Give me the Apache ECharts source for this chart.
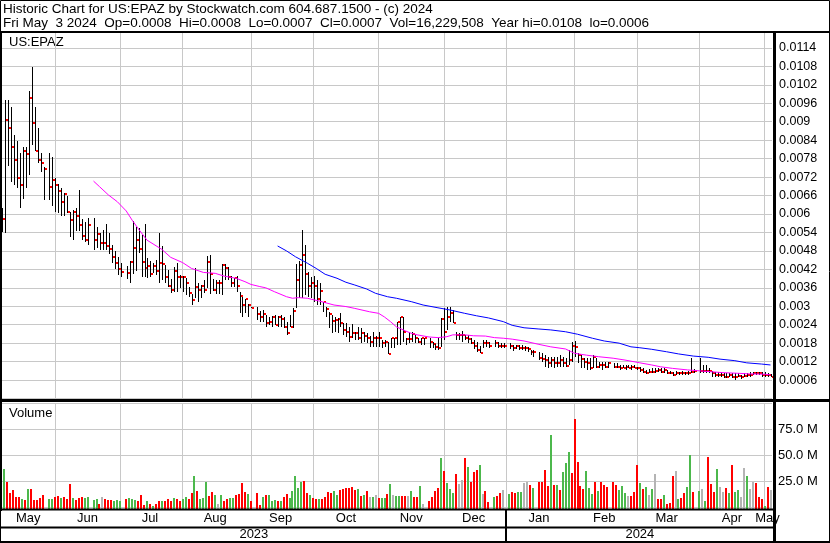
<!DOCTYPE html>
<html><head><meta charset="utf-8">
<script src="https://cdn.jsdelivr.net/npm/echarts@6/dist/echarts.min.js"></script>
<style>html,body{margin:0;padding:0;background:#fff}#c{width:830px;height:543px}</style>
</head><body><div id="c"></div>
<script>
// ---- data ----
const firstDay = '2023-05-08';
const lastDay = '2024-05-03';
const monthLabels = ['Jan','Feb','Mar','Apr','May','Jun','Jul','Aug','Sep','Oct','Nov','Dec'];
const priceTicks = {min: 0, max: 0.011886, interval: 0.0006};
const volumeTicks = {min: 0, max: 100, interval: 25};

const priceHigh = [
0.00619,0.00971,0.00971,0.00949,0.00857,0.00838,0.00799,0.00817,0.00817,0.01000,
0.01079,0.00949,0.00879,0.00797,0.00754,null,0.00799,0.00784,0.00716,0.00698,
0.00686,0.00669,0.00659,0.00608,0.00613,0.00621,0.00678,0.00583,0.00575,0.00586,
null,0.00586,0.00559,0.00537,0.00548,0.00567,0.00537,0.00499,0.00480,0.00460,
0.00440,null,0.00430,0.00447,0.00578,0.00557,0.00553,0.00532,0.00567,0.00458,
0.00448,0.00440,0.00450,0.00537,0.00496,0.00434,0.00418,0.00388,0.00429,0.00442,
0.00402,0.00398,0.00391,0.00364,0.00340,0.00423,0.00375,0.00369,0.00385,0.00463,
0.00467,0.00388,0.00385,0.00385,0.00437,0.00437,0.00429,0.00398,0.00391,0.00398,
0.00347,0.00329,0.00324,0.00307,0.00299,null,0.00299,0.00285,0.00288,0.00272,
0.00266,0.00269,0.00272,0.00269,0.00272,0.00266,0.00248,0.00272,0.00293,0.00436,
0.00447,0.00548,0.00499,0.00413,0.00396,0.00399,0.00385,0.00375,0.00313,0.00299,
0.00282,0.00272,0.00266,0.00263,0.00277,0.00245,0.00245,0.00234,0.00241,0.00215,
0.00234,0.00228,0.00217,0.00212,0.00203,0.00215,0.00203,0.00215,0.00190,0.00190,
0.00185,0.00196,0.00196,0.00248,0.00266,0.00266,0.00196,0.00217,0.00215,0.00207,
0.00196,0.00196,0.00196,null,0.00196,0.00185,0.00176,0.00196,0.00261,0.00293,
0.00299,0.00299,0.00288,0.00215,0.00212,0.00220,0.00205,0.00207,0.00196,0.00190,
0.00185,0.00171,0.00190,0.00190,0.00185,null,0.00190,0.00185,0.00182,0.00182,
null,0.00182,0.00174,0.00174,0.00174,0.00174,0.00172,0.00168,0.00158,0.00158,
null,0.00152,0.00147,0.00141,0.00136,0.00136,0.00136,0.00136,0.00141,0.00136,
0.00131,0.00158,0.00185,0.00187,0.00147,0.00141,0.00131,0.00131,0.00131,0.00141,
0.00131,0.00120,0.00120,0.00120,0.00120,null,0.00114,0.00114,0.00109,0.00109,
0.00109,0.00109,0.00109,0.00109,0.00103,0.00103,0.00098,0.00093,0.00095,0.00098,
0.00098,0.00098,0.00098,0.00098,0.00093,0.00090,0.00087,0.00090,0.00087,0.00090,
0.00087,0.00090,0.00131,0.00095,null,0.00131,0.00109,0.00109,0.00098,0.00090,
0.00087,0.00087,0.00087,0.00082,0.00082,0.00082,0.00082,0.00082,0.00082,0.00076,
0.00082,0.00082,0.00087,0.00087,0.00087,0.00087,0.00087,0.00087,0.00082,0.00080
];
const priceLow = [
0.00543,0.00537,0.00756,0.00705,0.00694,0.00686,0.00619,0.00648,0.00686,0.00727,
0.00824,0.00806,0.00767,0.00738,0.00646,null,0.00646,0.00626,0.00608,0.00604,
0.00594,0.00594,0.00604,0.00526,0.00515,0.00546,0.00546,0.00515,0.00509,0.00499,
null,0.00483,0.00489,0.00483,0.00483,0.00483,0.00470,0.00440,0.00420,0.00400,
0.00395,null,0.00390,0.00377,0.00405,0.00416,0.00474,0.00396,0.00394,0.00391,
0.00394,0.00407,0.00400,0.00377,0.00385,0.00375,0.00362,0.00344,0.00347,0.00347,
0.00358,0.00347,0.00337,0.00331,0.00305,0.00326,0.00315,0.00326,0.00342,0.00358,
0.00340,0.00351,0.00340,0.00340,0.00337,0.00385,0.00385,0.00364,0.00364,0.00347,
0.00277,0.00266,0.00277,0.00266,0.00293,null,0.00255,0.00250,0.00250,0.00234,
0.00239,0.00234,0.00239,0.00234,0.00234,0.00228,0.00207,0.00234,0.00230,0.00295,
0.00326,0.00326,0.00337,0.00331,0.00326,0.00315,0.00304,0.00304,0.00282,0.00266,
0.00228,0.00212,0.00217,0.00212,0.00234,0.00207,0.00201,0.00185,0.00198,0.00190,
0.00190,0.00179,0.00185,0.00179,0.00169,0.00169,0.00169,0.00169,0.00165,0.00169,
0.00144,0.00165,0.00165,0.00174,0.00174,0.00185,0.00174,0.00179,0.00185,0.00179,
0.00179,0.00174,0.00174,null,0.00163,0.00163,0.00158,0.00158,0.00168,0.00190,
0.00223,0.00250,0.00245,0.00190,0.00190,0.00185,0.00190,0.00180,0.00176,0.00160,
0.00150,0.00147,0.00165,0.00168,0.00165,null,0.00168,0.00165,0.00165,0.00165,
null,0.00160,0.00154,0.00161,0.00158,0.00158,0.00154,0.00152,0.00141,0.00136,
null,0.00125,0.00120,0.00103,0.00098,0.00103,0.00098,0.00103,0.00103,0.00103,
0.00103,0.00109,0.00120,0.00136,0.00114,0.00098,0.00098,0.00093,0.00093,0.00098,
0.00098,0.00098,0.00093,0.00098,0.00098,null,0.00098,0.00098,0.00093,0.00098,
0.00093,0.00098,0.00093,0.00098,0.00093,0.00087,0.00082,0.00079,0.00082,0.00082,
0.00084,0.00087,0.00082,0.00082,0.00079,0.00079,0.00073,0.00076,0.00076,0.00076,
0.00076,0.00076,0.00082,0.00084,null,0.00084,0.00082,0.00084,0.00082,0.00071,
0.00071,0.00071,0.00071,0.00066,0.00066,0.00069,0.00066,0.00060,0.00069,0.00063,
0.00069,0.00071,0.00071,0.00076,0.00076,0.00076,0.00071,0.00071,0.00069,0.00070
];
const priceClose = [
0.00584,0.00906,0.00881,0.00819,0.00777,0.00716,0.00694,0.00806,0.00796,0.00978,
0.00897,0.00806,0.00777,0.00767,0.00747,null,0.00689,0.00712,0.00694,0.00676,
0.00639,0.00666,0.00607,0.00580,0.00607,0.00594,0.00565,0.00529,0.00515,0.00565,
null,0.00515,0.00535,0.00507,0.00507,0.00497,0.00487,0.00460,0.00440,0.00420,
0.00410,null,0.00409,0.00445,0.00490,0.00515,0.00487,0.00445,0.00423,0.00431,
0.00405,0.00431,0.00416,0.00442,0.00437,0.00396,0.00366,0.00353,0.00416,0.00396,
0.00396,0.00396,0.00377,0.00342,0.00320,0.00362,0.00353,0.00367,0.00353,0.00445,
0.00405,0.00353,0.00377,0.00377,0.00434,0.00425,0.00396,0.00377,0.00391,0.00367,
0.00334,0.00305,0.00324,0.00305,0.00295,null,0.00276,0.00266,0.00276,0.00247,
0.00250,0.00266,0.00239,0.00266,0.00259,0.00234,0.00212,0.00234,0.00285,0.00386,
0.00434,0.00467,0.00406,0.00366,0.00375,0.00366,0.00324,0.00350,0.00313,0.00291,
0.00275,0.00251,0.00255,0.00259,0.00247,0.00222,0.00215,0.00200,0.00212,0.00212,
0.00196,0.00212,0.00204,0.00196,0.00185,0.00196,0.00196,0.00196,0.00181,0.00185,
0.00145,0.00196,0.00196,0.00248,0.00266,0.00215,0.00193,0.00193,0.00209,0.00196,
0.00185,0.00196,0.00196,null,0.00185,0.00176,0.00169,0.00163,0.00259,0.00217,
0.00266,0.00277,0.00247,0.00207,0.00207,0.00207,0.00196,0.00193,0.00182,0.00171,
0.00158,0.00149,0.00182,0.00182,0.00171,null,0.00182,0.00171,0.00171,0.00171,
null,0.00171,0.00165,0.00172,0.00165,0.00165,0.00165,0.00161,0.00150,0.00150,
null,0.00133,0.00127,0.00125,0.00114,0.00125,0.00114,0.00114,0.00125,0.00114,
0.00107,0.00125,0.00172,0.00168,0.00141,0.00128,0.00120,0.00114,0.00098,0.00136,
0.00103,0.00109,0.00109,0.00103,0.00114,null,0.00103,0.00103,0.00100,0.00100,
0.00103,0.00100,0.00103,0.00100,0.00098,0.00092,0.00087,0.00082,0.00087,0.00087,
0.00090,0.00093,0.00087,0.00093,0.00082,0.00082,0.00076,0.00082,0.00082,0.00082,
0.00082,0.00082,0.00087,0.00090,null,0.00090,0.00090,0.00090,0.00090,0.00082,
0.00076,0.00076,0.00076,0.00071,0.00069,0.00076,0.00071,0.00069,0.00073,0.00069,
0.00073,0.00076,0.00076,0.00082,0.00082,0.00082,0.00076,0.00076,0.00076,0.00070
];
// volume in millions of shares
const volumeM = [
4.9,37,24.4,13.8,16.3,9.9,9.9,7.7,6.7,17.3,
17.3,6.7,6.7,8.3,11.5,null,7.7,7.7,9.9,10.6,
8.3,9.3,7.7,22.1,8.3,6.7,8.3,9.9,8.3,9.3,
null,6.7,7.7,3.2,9.3,7.7,6.7,6.7,5.8,6.7,
6.0,null,7.7,8.3,7.7,6.7,5.8,11.5,1.6,5.8,
2.9,1.0,3.2,5.8,5.8,5.8,7.7,5.8,8.3,7.7,
5.8,7.7,9.9,7.7,13.8,29.9,15.7,7.7,8.3,24.4,
10.6,14.7,11.5,3.2,11.5,5.8,7.7,8.3,9.0,11.5,
12.2,23.4,14.7,12.2,5.8,null,13.1,1.6,9.3,11.5,
11.5,6.0,6.7,5.8,5.8,9.3,12.2,8.3,15.4,29.9,
17.9,24.4,25.1,13.1,11.5,8.3,7.4,7.4,7.4,9.9,
14.7,13.1,15.7,11.5,16.3,17.0,17.9,17.9,18.9,16.3,
17.0,10.9,11.5,15.4,9.9,9.3,11.5,8.3,8.3,8.3,
12.5,22.1,11.5,10.6,10.6,10.6,10.6,10.6,15.7,9.3,
9.9,20.6,3.0,null,6.1,9.9,15.7,18.6,47.4,34.9,
23.4,17.3,13.1,31.7,22.1,25.9,47.4,38.8,24.4,33.2,
35.1,40.4,12.5,15.7,5.0,null,9.9,10.9,13.1,16.3,
null,12.5,14.7,13.8,14.7,14.7,23.4,24.4,21.2,18.6,
null,24.4,24.4,35.5,20.2,69.5,21.2,21.2,16.3,33.2,
42.3,52.6,32.4,84.6,42.9,20.2,17.0,34.6,18.6,12.5,
24.4,15.7,24.4,21.2,19.0,null,23.7,21.2,16.3,20.2,
13.1,10.9,10.9,14.7,40.4,23.4,17.6,19.2,11.5,17.6,
31.7,7.4,7.4,11.5,2.6,3.8,30.1,34.9,7.4,8.3,
13.1,19.2,50.3,14.7,null,15.7,17.3,5.8,48.4,22.1,
14.7,36.5,18.9,14.7,18.6,13.8,40.4,14.7,16.3,9.9,
37.2,29.9,17.6,24.4,22.8,9.9,8.0,1.0,19.6,16.2
];
// 1 = up day, -1 = down day, 0 = unchanged
const volumeDirection = [
0,1,-1,-1,-1,-1,-1,1,-1,1,
-1,-1,-1,-1,-1,null,1,1,-1,-1,
1,-1,-1,-1,1,-1,-1,-1,1,1,
null,1,1,-1,0,-1,-1,-1,1,1,
1,null,-1,1,1,1,-1,-1,-1,1,
-1,1,-1,-1,1,-1,-1,-1,1,-1,
-1,1,1,-1,-1,1,-1,1,1,1,
-1,-1,1,0,1,-1,-1,1,1,-1,
-1,-1,-1,1,-1,null,-1,-1,1,-1,
1,1,1,-1,1,-1,-1,1,1,1,
1,1,-1,-1,1,-1,-1,1,-1,-1,
-1,-1,1,1,-1,-1,-1,-1,-1,-1,
1,-1,1,-1,0,1,0,-1,1,1,
-1,1,0,1,1,-1,-1,0,1,-1,
-1,1,0,null,-1,-1,-1,-1,1,-1,
1,1,1,-1,0,0,-1,1,-1,-1,
-1,1,0,-1,-1,null,1,-1,-1,0,
null,1,-1,-1,1,1,0,0,-1,1,
null,-1,-1,-1,-1,1,-1,1,-1,1,
1,1,-1,-1,-1,-1,-1,1,1,1,
-1,1,-1,-1,-1,null,-1,-1,1,1,
1,0,-1,-1,-1,1,-1,1,0,1,
0,-1,-1,1,-1,-1,-1,0,1,-1,
-1,1,1,-1,null,1,0,1,-1,-1,
-1,1,0,0,-1,1,-1,1,1,0,
0,1,0,0,-1,-1,-1,1,-1,0
];
// moving averages: [bar index, value]
const maFast = [
[31,0.00707],[33,0.00689],[36,0.00662],[39,0.00640],[42,0.00610],[44,0.00580],[46,0.00553],[49,0.00515],
[54,0.00485],[57,0.00459],[61,0.00442],[64,0.00423],[68,0.00410],[72,0.00407],[75,0.00398],[79,0.00391],
[82,0.00380],[84,0.00371],[87,0.00364],[89,0.00360],[92,0.00347],[96,0.00331],[98,0.00326],[100,0.00328],
[103,0.00326],[107,0.00317],[112,0.00304],[116,0.00299],[119,0.00293],[124,0.00282],[127,0.00277],[129,0.00265],
[131,0.00250],[133,0.00233],[136,0.00220],[138,0.00212],[140,0.00207],[144,0.00200],[147,0.00198],[150,0.00201],
[152,0.00207],[156,0.00207],[159,0.00204],[163,0.00203],[166,0.00198],[169,0.00196],[172,0.00193],[176,0.00187],
[181,0.00176],[185,0.00168],[190,0.00161],[193,0.00147],[197,0.00141],[201,0.00136],[206,0.00131],[210,0.00125],
[215,0.00116],[219,0.00109],[222,0.00103],[226,0.00098],[231,0.00093],[235,0.00090],[239,0.00087],[243,0.00084],
[248,0.00082],[252,0.00080],[257,0.00079],[259,0.00077]
];
const maSlow = [
[93,0.00496],[96,0.00480],[99,0.00461],[103,0.00440],[106,0.00423],[109,0.00404],[113,0.00391],[116,0.00378],
[119,0.00369],[123,0.00356],[126,0.00342],[130,0.00331],[133,0.00326],[138,0.00315],[142,0.00304],[147,0.00295],
[151,0.00288],[156,0.00277],[160,0.00269],[164,0.00262],[169,0.00250],[172,0.00238],[176,0.00230],[181,0.00226],
[185,0.00223],[190,0.00217],[194,0.00209],[199,0.00196],[203,0.00187],[208,0.00180],[212,0.00168],[215,0.00165],
[219,0.00160],[224,0.00152],[228,0.00145],[233,0.00138],[238,0.00134],[242,0.00128],[247,0.00123],[251,0.00116],
[256,0.00112],[259,0.00109]
];

// ---- build ----
const dates = [];
for (let d = new Date(firstDay + 'T12:00:00Z'); d <= new Date(lastDay + 'T12:00:00Z'); d.setUTCDate(d.getUTCDate() + 1)) {
  const wd = d.getUTCDay();
  if (wd !== 0 && wd !== 6) dates.push(d.toISOString().slice(0, 10));
}
const monthKey = s => s.slice(0, 7);
const monthStarts = [];
const monthMid = new Set();
const yearMid = new Set();
(function () {
  let s = 0;
  for (let i = 1; i <= dates.length; i++) {
    if (i === dates.length || monthKey(dates[i]) !== monthKey(dates[i - 1])) {
      monthMid.add(Math.round((s + i - 1) / 2));
      if (i < dates.length) monthStarts.push(i);
      s = i;
    }
  }
  s = 0;
  for (let i = 1; i <= dates.length; i++) {
    if (i === dates.length || dates[i].slice(0, 4) !== dates[i - 1].slice(0, 4)) {
      yearMid.add(Math.round((s + i - 1) / 2));
      s = i;
    }
  }
})();
const yearStart = dates.findIndex((d, i) => i > 0 && d.slice(0, 4) !== dates[i - 1].slice(0, 4));

const ohlc = [];
priceHigh.forEach((h, i) => { if (h != null) ohlc.push([i, h, priceLow[i], priceClose[i]]); });
const vols = [];
volumeM.forEach((v, i) => { if (v != null) vols.push([i, v, volumeDirection[i]]); });

const FONT = '"Liberation Sans", Arial, sans-serif';
const GRID = '#c8c8c8';
const volColors = {'1': '#4cb84c', '-1': '#ff0000', '0': '#b4b4b4'};

function renderPrice(params, api) {
  const k = api.value(0);
  const top = api.coord([k, api.value(1)]);
  const bot = api.coord([k, api.value(2)]);
  const cp = api.coord([k, api.value(3)]);
  const x = Math.round(top[0] + 0.5);
  const y1 = Math.round(top[1]);
  const y2 = Math.max(Math.round(bot[1]), y1 + 1);
  const cy = Math.round(cp[1]);
  return {type: 'group', children: [
    {type: 'rect', shape: {x: x, y: y1, width: 1, height: y2 - y1}, style: {fill: '#000'}},
    {type: 'rect', shape: {x: x + 1, y: cy - 1, width: 2, height: 2}, style: {fill: '#ff0000'}}
  ]};
}
function renderVol(params, api) {
  const k = api.value(0);
  const top = api.coord([k, api.value(1)]);
  const base = api.coord([k, 0]);
  const x = Math.round(top[0] - 1);
  const y1 = Math.round(top[1]);
  const y2 = Math.round(base[1]) + 2;
  return {type: 'rect', shape: {x: x, y: y1, width: 2, height: y2 - y1},
    style: {fill: volColors[String(api.value(2))]}};
}

const gridLineMark = {
  silent: true, symbol: ['none', 'none'], z: 1,
  label: {show: false},
  lineStyle: {color: GRID, width: 1, type: 'solid'},
  emphasis: {disabled: true},
  data: monthStarts.map(i => ({xAxis: i}))
};

const chart = echarts.init(document.getElementById('c'), null, {renderer: 'canvas'});
const option = {
  animation: false,
  backgroundColor: '#fff',
  textStyle: {fontFamily: FONT},
  grid: [
    {left: 0, top: 33, width: 772, height: 365.5, outerBoundsMode: 'none', containLabel: false},
    {left: 0, top: 403, width: 772, height: 104, outerBoundsMode: 'none', containLabel: false}
  ],
  xAxis: [
    {type: 'category', gridIndex: 0, data: dates, boundaryGap: true, show: false},
    {type: 'category', gridIndex: 1, data: dates, boundaryGap: true, position: 'bottom',
      axisLine: {show: false}, axisTick: {show: false}, splitLine: {show: false},
      axisLabel: {interval: (i) => monthMid.has(i), formatter: (v) => monthLabels[+v.slice(5, 7) - 1],
        color: '#000', fontSize: 13, fontFamily: FONT, margin: 5}},
    {type: 'category', gridIndex: 1, data: dates, boundaryGap: true, position: 'bottom', offset: 17,
      axisLine: {show: false}, axisTick: {show: false}, splitLine: {show: false},
      axisLabel: {interval: (i) => yearMid.has(i), formatter: (v) => v.slice(0, 4),
        color: '#000', fontSize: 13, fontFamily: FONT, margin: 4}}
  ],
  yAxis: [
    {type: 'value', gridIndex: 0, position: 'right', min: priceTicks.min, max: priceTicks.max, interval: priceTicks.interval,
      axisLine: {show: false}, axisTick: {show: false},
      splitLine: {show: true, showMaxLine: false, lineStyle: {color: GRID, width: 1}},
      axisLabel: {showMinLabel: false, showMaxLabel: false, margin: 7, color: '#000', fontSize: 12.5, fontFamily: FONT}},
    {type: 'value', gridIndex: 1, position: 'right', min: volumeTicks.min, max: volumeTicks.max, interval: volumeTicks.interval,
      axisLine: {show: false}, axisTick: {show: false},
      splitLine: {show: true, lineStyle: {color: GRID, width: 1}},
      axisLabel: {showMinLabel: false, showMaxLabel: false, margin: 6, color: '#000', fontSize: 13, fontFamily: FONT,
        formatter: (v) => v.toFixed(1) + ' M'}}
  ],
  series: [
    {type: 'line', xAxisIndex: 0, yAxisIndex: 0, data: [], silent: true, z: 1, markLine: gridLineMark},
    {type: 'line', xAxisIndex: 1, yAxisIndex: 1, data: [], silent: true, z: 1, markLine: gridLineMark},
    {type: 'custom', name: 'price', xAxisIndex: 0, yAxisIndex: 0, data: ohlc, renderItem: renderPrice,
      encode: {x: 0, y: [1, 2, 3]}, z: 3, silent: true},
    {type: 'line', name: 'MA fast', xAxisIndex: 0, yAxisIndex: 0, data: maFast, showSymbol: false, symbol: 'none',
      lineStyle: {color: '#ff00ff', width: 1}, z: 4, silent: true},
    {type: 'line', name: 'MA slow', xAxisIndex: 0, yAxisIndex: 0, data: maSlow, showSymbol: false, symbol: 'none',
      lineStyle: {color: '#0000ff', width: 1}, z: 4, silent: true},
    {type: 'custom', name: 'volume', xAxisIndex: 1, yAxisIndex: 1, data: vols, renderItem: renderVol,
      encode: {x: 0, y: 1}, z: 3, silent: true}
  ]
};
chart.setOption(option);

const janX = chart.convertToPixel({xAxisIndex: 1}, yearStart);
const blk = {fill: '#000'};
const txt = (t, x, y, size) => ({type: 'text', x: x, y: y, silent: true,
  style: {text: t, font: size + 'px ' + FONT, fill: '#000', align: 'left', verticalAlign: 'middle'}});
chart.setOption({graphic: {elements: [
  {type: 'rect', shape: {x: 0.5, y: 0.5, width: 829, height: 542}, style: {fill: 'none', stroke: '#000', lineWidth: 1}, z: 100, silent: true},
  {type: 'rect', shape: {x: 0, y: 31, width: 830, height: 2}, style: blk, z: 100, silent: true},
  {type: 'rect', shape: {x: 0, y: 31, width: 2, height: 480}, style: blk, z: 100, silent: true},
  {type: 'rect', shape: {x: 773, y: 31, width: 3, height: 512}, style: blk, z: 100, silent: true},
  {type: 'rect', shape: {x: 0, y: 399, width: 830, height: 3}, style: blk, z: 100, silent: true},
  {type: 'rect', shape: {x: 0, y: 508.5, width: 776, height: 2}, style: blk, z: 100, silent: true},
  {type: 'rect', shape: {x: 0, y: 526.5, width: 776, height: 2}, style: blk, z: 100, silent: true},
  {type: 'rect', shape: {x: 0, y: 541, width: 830, height: 2}, style: blk, z: 100, silent: true},
  {type: 'rect', shape: {x: Math.round(janX) - 1, y: 509, width: 2, height: 33}, style: blk, z: 100, silent: true},
  txt('Historic Chart for US:EPAZ by Stockwatch.com 604.687.1500 - (c) 2024', 3, 9, 13.5),
  txt('Fri May  3 2024  Op=0.0008  Hi=0.0008  Lo=0.0007  Cl=0.0007  Vol=16,229,508  Year hi=0.0108  lo=0.0006', 3, 23, 13.5),
  txt('US:EPAZ', 9, 42, 13),
  txt('Volume', 9, 413, 13)
]}});
</script></body></html>
